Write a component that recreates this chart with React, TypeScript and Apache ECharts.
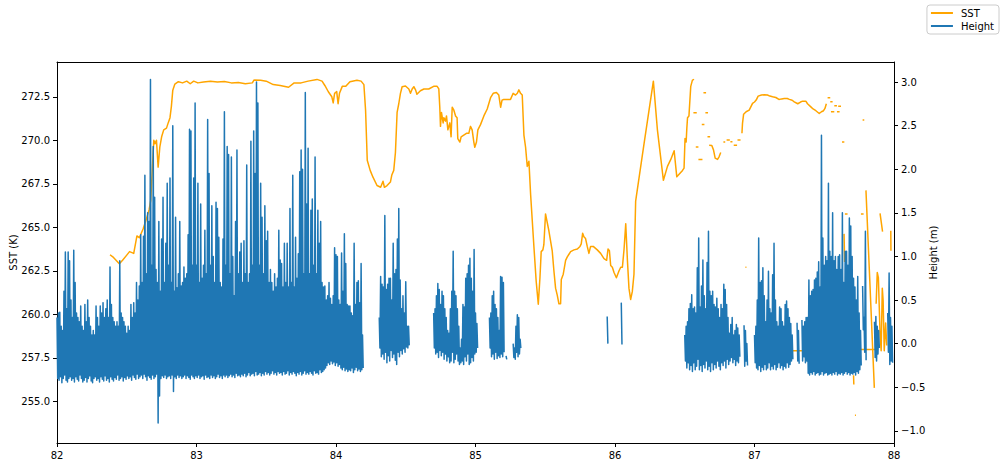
import React, { useEffect, useRef } from 'react';
import * as echarts from 'echarts';

const FONT = 'DejaVu Sans';
const SST_COLOR = '#ffa500';
const HEIGHT_COLOR = '#1f77b4';

// axis ticks
const xTicks = [82, 83, 84, 85, 86, 87, 88];
const sstTicks = [255, 257.5, 260, 262.5, 265, 267.5, 270, 272.5];
const heightTicks = [-1, -0.5, 0, 0.5, 1, 1.5, 2, 2.5, 3];
const seriesNames = ['SST', 'Height'];

// ---------- SST (K) ----------
const sstMain: number[][] = [
  [82.38, 263.42], [82.4, 263.3], [82.43, 263.05], [82.447, 262.9], [82.47, 263.1], [82.5, 263.4], [82.52, 263.6],
  [82.55, 263.5], [82.573, 264.5], [82.59, 264.4], [82.617, 264.9], [82.634, 265.3], [82.66, 266.0], [82.672, 266.54],
  [82.684, 268.46], [82.694, 270.0], [82.703, 269.8], [82.713, 270.0], [82.725, 268.46], [82.737, 269.6], [82.75, 270.2],
  [82.765, 270.6], [82.785, 270.7], [82.797, 271.0], [82.81, 271.3], [82.82, 271.95], [82.83, 272.88], [82.845, 273.23],
  [82.87, 273.37], [82.9, 273.3], [82.93, 273.4], [82.955, 273.25], [82.98, 273.4], [83.01, 273.3], [83.05, 273.35],
  [83.1, 273.4], [83.15, 273.35], [83.2, 273.38], [83.25, 273.3], [83.3, 273.32], [83.35, 273.25], [83.4, 273.3],
  [83.412, 273.46], [83.46, 273.45], [83.5, 273.4], [83.55, 273.2], [83.6, 273.15], [83.66, 273.05], [83.7, 273.3],
  [83.75, 273.3], [83.8, 273.4], [83.864, 273.5], [83.9, 273.4], [83.92, 273.15], [83.945, 272.79], [83.97, 272.5],
  [83.98, 272.15], [83.99, 272.7], [84.005, 272.8], [84.015, 272.1], [84.025, 272.7], [84.045, 273.1], [84.07, 273.1],
  [84.1, 273.37], [84.15, 273.45], [84.18, 273.4], [84.2, 273.2], [84.212, 271.73], [84.224, 268.85], [84.245, 268.27],
  [84.265, 267.88], [84.294, 267.4], [84.32, 267.3], [84.337, 267.65], [84.347, 267.3], [84.366, 267.4], [84.39, 267.6],
  [84.4, 268.0], [84.414, 268.27], [84.426, 269.3], [84.438, 271.6], [84.45, 272.1], [84.462, 272.7], [84.474, 273.08],
  [84.498, 273.12], [84.522, 272.95], [84.534, 272.7], [84.546, 272.95], [84.558, 273.08], [84.57, 272.9], [84.58, 272.65],
  [84.605, 272.85], [84.63, 272.95], [84.665, 272.95], [84.7, 273.1], [84.725, 273.1], [84.737, 272.95], [84.744, 271.9],
  [84.749, 270.8], [84.756, 271.6], [84.768, 271.0], [84.773, 271.3], [84.785, 271.1], [84.792, 271.4], [84.802, 270.6],
  [84.816, 271.0], [84.825, 270.2], [84.833, 271.9], [84.845, 271.73], [84.857, 271.4], [84.868, 271.3], [84.873, 270.1],
  [84.888, 269.9], [84.897, 270.2], [84.916, 270.3], [84.935, 270.4], [84.952, 270.4], [84.964, 270.8], [84.976, 270.6],
  [84.988, 269.9], [84.995, 269.6], [85.007, 269.9], [85.017, 270.6], [85.036, 270.9], [85.06, 271.4], [85.084, 271.8],
  [85.108, 272.45], [85.127, 272.7], [85.15, 272.75], [85.167, 272.6], [85.18, 271.9], [85.19, 272.3], [85.203, 272.35],
  [85.227, 272.35], [85.251, 272.35], [85.27, 272.7], [85.287, 272.6], [85.3, 272.7], [85.311, 272.9], [85.323, 272.7],
  [85.335, 272.6], [85.347, 270.3], [85.359, 269.6], [85.371, 268.5], [85.383, 268.8], [85.395, 266.9], [85.419, 263.85],
  [85.435, 261.9], [85.45, 260.58], [85.462, 262.1], [85.471, 263.6], [85.483, 263.7], [85.49, 264.0], [85.502, 265.77],
  [85.526, 264.8], [85.55, 263.65], [85.562, 262.5], [85.574, 261.5], [85.586, 261.1], [85.598, 260.6], [85.61, 260.6],
  [85.615, 262.0], [85.629, 262.3], [85.646, 263.1], [85.658, 263.3], [85.67, 263.45], [85.682, 263.6], [85.706, 263.7],
  [85.73, 263.75], [85.749, 263.9], [85.758, 264.05], [85.768, 264.65], [85.777, 264.45], [85.789, 264.35], [85.801, 263.9],
  [85.813, 263.5], [85.825, 263.9], [85.844, 263.9], [85.873, 263.7], [85.897, 263.5], [85.921, 263.2], [85.94, 263.1],
  [85.95, 263.75], [85.96, 263.65], [85.969, 262.8], [85.981, 262.7], [85.993, 262.4], [86.01, 262.1], [86.029, 262.5],
  [86.041, 262.7], [86.053, 262.7], [86.065, 263.75], [86.077, 265.2], [86.089, 263.1], [86.1, 261.5], [86.112, 260.85],
  [86.124, 261.3], [86.136, 262.3], [86.148, 266.5], [86.208, 269.8], [86.275, 273.4], [86.304, 270.6], [86.347, 267.7],
  [86.376, 268.5], [86.4, 268.9], [86.424, 269.4], [86.443, 267.9], [86.484, 268.27], [86.495, 268.4], [86.502, 270.1],
  [86.51, 269.9], [86.515, 270.7], [86.52, 271.3], [86.53, 271.4], [86.543, 273.1], [86.555, 273.46], [86.567, 273.5],
];
const sstTrough: number[][] = [
  [86.675, 269.71], [86.694, 269.7], [86.706, 269.45], [86.718, 268.98], [86.735, 268.9], [86.746, 269.05], [86.758, 269.3],
];
const sstPlateau: number[][] = [
  [86.91, 270.4], [86.914, 270.97], [86.922, 271.5], [86.94, 271.64], [86.962, 271.73], [86.986, 272.12], [87.0, 272.2],
  [87.012, 272.31], [87.026, 272.54], [87.05, 272.6], [87.07, 272.62], [87.093, 272.6], [87.11, 272.54], [87.13, 272.5],
  [87.153, 272.46], [87.175, 272.35], [87.195, 272.38], [87.213, 272.4], [87.235, 272.4], [87.25, 272.35], [87.27, 272.3],
  [87.285, 272.21], [87.31, 272.1], [87.33, 272.2], [87.345, 272.25], [87.368, 272.25], [87.38, 272.1], [87.404, 271.92],
  [87.42, 271.8], [87.44, 271.7], [87.464, 271.54], [87.48, 271.64], [87.495, 271.7], [87.505, 271.83], [87.515, 272.1],
];
const sstFlatA: number[][] = [[87.2, 257.9], [87.35, 257.9]];
const sstFlatB: number[][] = [[87.763, 257.98], [87.883, 257.98]];
const sstDrop: number[][] = [[87.799, 267.12], [87.859, 255.77]];
const sstShort: number[][] = [[87.9, 265.8], [87.918, 264.75]];
const sstZigzag: number[][] = [
  [87.872, 260.6], [87.88, 262.4], [87.888, 262.1], [87.9, 258.9], [87.908, 257.9], [87.916, 261.5], [87.922, 260.8],
  [87.93, 257.9], [87.94, 259.5], [87.948, 258.2],
];
const sstVert: number[][] = [[87.642, 264.62], [87.646, 263.0]];
const sstEdge: number[][] = [[87.977, 264.8], [87.978, 263.65]];
const sstLow: number[][] = [[87.71, 256.5], [87.712, 255.96]];
// short dashes: [x start, x end, SST]
const sstDashes: number[][] = [
  [86.634, 86.653, 272.73], [86.562, 86.586, 271.58], [86.648, 86.667, 271.58], [86.622, 86.641, 270.91],
  [86.663, 86.682, 270.2], [86.579, 86.598, 269.62], [86.598, 86.627, 268.9], [86.935, 86.942, 262.7],
  [86.995, 87.0, 257.8], [86.777, 86.79, 269.9], [86.8, 86.823, 270.02], [86.827, 86.842, 269.92],
  [86.851, 86.875, 269.72], [86.878, 86.9, 270.02], [87.524, 87.543, 272.44], [87.543, 87.56, 272.21],
  [87.572, 87.591, 271.98], [87.6, 87.62, 271.96], [87.548, 87.572, 271.64], [87.591, 87.61, 271.64],
  [87.775, 87.787, 271.16], [87.627, 87.644, 269.9], [87.648, 87.667, 265.77], [87.763, 87.782, 265.77],
  [87.79, 87.795, 265.48], [87.758, 87.763, 259.71], [87.876, 87.88, 263.08], [87.72, 87.727, 254.2],
  [87.733, 87.738, 253.95], [87.738, 87.742, 253.56], [87.975, 87.979, 266.15], [87.975, 87.979, 265.67],
  [87.975, 87.979, 262.98], [87.975, 87.979, 262.69], [87.975, 87.979, 262.21], [87.975, 87.979, 260.77],
];

// ---------- Height (m): per-segment peaks (highs) and troughs (lows), 0.01 apart ----------
const hA = [
  0.30, 0.35, 0.36, 0.20, 0.15, 0.60, 1.05, 0.40, 1.05, 0.95,
  0.50, 0.30, 1.07, 0.70, 0.35, 0.30, 0.25, 0.43, 0.20, 0.15,
  0.45, 0.25, 0.50, 0.30, 0.20, 0.10, 0.15, 0.10, 0.43, 0.30,
  0.20, 0.43, 0.35, 0.47, 0.30, 0.40, 0.50, 0.30, 0.88, 0.45,
  0.30, 0.25, 0.20, 0.25, 0.20, 0.95, 0.35, 0.30, 0.25, 0.20,
  0.12, 0.20, 0.15, 0.45, 0.30, 0.47, 0.35, 0.70, 0.50, 0.66,
  1.25, 0.70, 1.23, 1.93, 0.80, 1.50, 1.40, 3.03, 0.90, 2.26,
  1.68, 0.85, 0.70, 1.40, 0.60, 1.20, 1.68, 0.70, 1.15, 1.84,
  0.90, 1.90, 0.70, 2.50, 0.60, 1.45, 0.64, 0.80, 1.40, 0.66,
  0.70, 0.88, 0.75, 0.80, 1.25, 2.46, 2.44, 0.90, 1.90, 2.76,
  0.90, 1.84, 0.70, 1.60, 0.75, 0.90, 1.30, 0.80, 2.57, 1.95,
  0.90, 1.58, 1.00, 0.70, 1.62, 1.55, 1.22, 0.70, 0.65, 1.20,
  2.66, 0.90, 2.26, 2.17, 0.80, 2.14, 1.00, 0.55, 1.40, 2.22,
  0.80, 1.05, 1.15, 0.70, 1.18, 0.80, 2.05, 0.70, 0.80, 2.32,
  0.90, 2.44, 1.95, 3.00, 2.76, 0.90, 1.84, 1.45, 0.80, 1.58,
  1.18, 1.29, 0.70, 0.85, 0.70, 0.60, 0.80, 0.65, 0.75, 1.30,
  0.96, 0.92, 0.65, 1.15, 0.70, 1.15, 0.65, 1.55, 0.70, 1.93,
  0.65, 1.22, 0.75, 1.03, 1.97, 2.22, 2.00, 0.80, 2.88, 1.60,
  2.24, 0.80, 1.53, 1.66, 0.90, 2.14, 0.80, 1.53, 1.15, 1.40,
  0.70, 0.65, 0.66, 0.50, 0.55, 0.70, 0.52, 0.45, 0.55, 1.10,
  1.02, 1.00, 0.50, 0.45, 1.04, 0.60, 1.26, 0.92, 0.45, 0.43,
  0.43, 0.35, 0.32, 1.15, 0.45, 0.70, 0.72, 0.47, 0.92, 0.10,
];
const lA = [
  -0.40, -0.42, -0.38, -0.45, -0.40, -0.36, -0.42, -0.44, -0.40, -0.38,
  -0.42, -0.40, -0.44, -0.38, -0.41, -0.43, -0.36, -0.40, -0.44, -0.42,
  -0.39, -0.44, -0.40, -0.37, -0.43, -0.45, -0.40, -0.38, -0.42, -0.40,
  -0.44, -0.38, -0.41, -0.43, -0.37, -0.42, -0.40, -0.44, -0.38, -0.41,
  -0.43, -0.39, -0.41, -0.36, -0.42, -0.40, -0.38, -0.43, -0.39, -0.41,
  -0.37, -0.40, -0.38, -0.42, -0.36, -0.39, -0.41, -0.35, -0.40, -0.38,
  -0.36, -0.40, -0.35, -0.38, -0.42, -0.37, -0.39, -0.41, -0.36, -0.40,
  -0.38, -0.35, -0.91, -0.60, -0.40, -0.37, -0.39, -0.36, -0.40, -0.38,
  -0.37, -0.40, -0.36, -0.55, -0.38, -0.40, -0.36, -0.39, -0.37, -0.40,
  -0.38, -0.36, -0.40, -0.37, -0.39, -0.41, -0.36, -0.38, -0.40, -0.37,
  -0.39, -0.36, -0.40, -0.38, -0.37, -0.41, -0.36, -0.39, -0.38, -0.40,
  -0.36, -0.39, -0.37, -0.40, -0.38, -0.35, -0.39, -0.37, -0.40, -0.36,
  -0.38, -0.36, -0.39, -0.37, -0.35, -0.38, -0.36, -0.39, -0.34, -0.37,
  -0.36, -0.38, -0.35, -0.37, -0.34, -0.38, -0.36, -0.33, -0.37, -0.35,
  -0.34, -0.37, -0.32, -0.36, -0.35, -0.33, -0.37, -0.34, -0.36, -0.32,
  -0.35, -0.33, -0.36, -0.34, -0.31, -0.35, -0.33, -0.36, -0.32, -0.34,
  -0.33, -0.36, -0.32, -0.35, -0.34, -0.31, -0.36, -0.33, -0.35, -0.32,
  -0.34, -0.37, -0.33, -0.35, -0.32, -0.36, -0.34, -0.31, -0.35, -0.33,
  -0.35, -0.32, -0.34, -0.36, -0.31, -0.34, -0.33, -0.35, -0.30, -0.33,
  -0.32, -0.30, -0.28, -0.25, -0.22, -0.24, -0.20, -0.23, -0.21, -0.25,
  -0.22, -0.26, -0.24, -0.28, -0.30, -0.27, -0.31, -0.29, -0.32, -0.30,
  -0.31, -0.28, -0.33, -0.30, -0.27, -0.31, -0.29, -0.32, -0.30, -0.28,
];
const hB = [0.3, 0.77, 0.68, 0.65, 1.47, 0.62, 0.68, 0.75, 0.75, 0.5, 1.15, 0.8, 0.85, 1.2, 1.55, 0.73, 0.4, 0.55, 0.35, 0.71, 0.2, 0.2];
const lB = [-0.05, -0.15, -0.12, -0.18, -0.1, -0.22, -0.14, -0.2, -0.08, -0.16, -0.12, -0.19, -0.24, -0.1, -0.15, -0.08, -0.12, -0.06, -0.1, -0.04, -0.05, -0.02];
const hC = [
  0.35, 0.4, 0.55, 0.69, 0.62, 0.45, 0.6, 0.55, 0.4, 0.3, 0.15, 0.12, 0.4, 0.6, 1.06, 0.6,
  0.55, 0.4, 0.2, -0.05, 0.05, 0.45, 0.42, 0.75, 0.8, 0.9, 0.98, 0.75, 0.6, 1.08, 0.35, 0.23,
];
const lC = [
  -0.05, -0.12, -0.1, -0.16, -0.08, -0.14, -0.1, -0.18, -0.12, -0.2, -0.15, -0.22, -0.2, -0.1, -0.22, -0.18,
  -0.12, -0.2, -0.24, -0.22, -0.2, -0.24, -0.15, -0.2, -0.12, -0.24, -0.22, -0.16, -0.2, -0.12, -0.1, -0.05,
];
const hD1 = [0.3, 0.35, 0.55, 0.6, 0.45, 0.4, 0.3, 0.15, 0.77, 0.76, 0.7];
const lD1 = [-0.05, -0.15, -0.12, -0.18, -0.1, -0.17, -0.14, -0.16, -0.12, -0.15, -0.1];
const hDot = [-0.14];
const lDot = [-0.18];
const hD2 = [0.0, -0.05, 0.2, 0.33, 0.3, 0.05];
const lD2 = [-0.16, -0.18, -0.1, -0.15, -0.12, -0.05];
const hE = [0.31];
const lE = [0.0];
const hF = [0.47];
const lF = [-0.01];
const hG = [
  0.1, 0.2, 0.25, 0.4, 0.46, 0.56, 0.4, 0.42, 0.35, 0.87, 1.21, 0.42, 0.66, 0.96, 0.55, 0.4, 0.93, 1.29, 0.6, 0.55,
  0.6, 0.45, 0.42, 0.52, 0.4, 0.3, 0.45, 0.4, 0.68, 0.62, 0.45, 0.3, 0.12, 0.22, 0.3, 0.1, 0.15, 0.22, 0.18, 0.1,
];
const lG = [
  -0.2, -0.28, -0.22, -0.3, -0.25, -0.32, -0.22, -0.3, -0.26, -0.18, -0.3, -0.25, -0.32, -0.24, -0.28, -0.2, -0.3, -0.26, -0.32, -0.22,
  -0.3, -0.24, -0.28, -0.2, -0.26, -0.3, -0.22, -0.25, -0.2, -0.28, -0.18, -0.24, -0.2, -0.16, -0.22, -0.18, -0.25, -0.2, -0.22, -0.15,
];
const hG2 = [0.21, 0.15, 0.0];
const lG2 = [-0.26, -0.2, -0.25];
const hH = [
  0.1, 0.2, 0.5, 1.21, 0.7, 0.72, 0.87, 0.55, 0.25, 0.5, 0.83, 0.4, 0.35, 0.79, 1.15, 0.5, 0.25, 0.2, 0.42, 0.4,
  0.25, 0.2, 0.45, 0.49, 0.4, 0.3, 0.23, 0.1,
];
const lH = [
  -0.22, -0.28, -0.3, -0.25, -0.32, -0.27, -0.3, -0.24, -0.3, -0.28, -0.22, -0.3, -0.26, -0.29, -0.24, -0.3, -0.27, -0.22, -0.28, -0.25,
  -0.3, -0.26, -0.28, -0.22, -0.27, -0.24, -0.2, -0.18,
];
const hI = [0.24, 0.15];
const lI = [-0.2, -0.23];
const hJ = [
  0.27, 0.2, 0.25, 0.3, 0.3, 0.73, 0.55, 0.6, 0.62, 0.73, 0.75, 0.82, 0.94, 0.65, 2.39, 1.21, 0.9, 1.0, 0.95, 1.84,
  1.06, 1.0, 1.5, 0.95, 1.0, 0.85, 1.0, 1.02, 0.85, 1.5, 0.7, 1.06, 1.06, 0.9, 1.44, 1.35, 1.0, 0.75, 0.65, 0.5,
  0.77, 0.35, 0.15,
];
const lJ = [
  -0.2, -0.15, -0.22, -0.2, -0.34, -0.36, -0.33, -0.35, -0.32, -0.36, -0.34, -0.33, -0.36, -0.35, -0.32, -0.36, -0.34, -0.33, -0.36, -0.35,
  -0.34, -0.36, -0.33, -0.35, -0.32, -0.36, -0.34, -0.35, -0.33, -0.36, -0.34, -0.32, -0.35, -0.33, -0.36, -0.34, -0.35, -0.33, -0.36, -0.32,
  -0.34, -0.3, -0.25,
];
const hK = [0.66, 0.3, 1.29];
const lK = [0.16, -0.1, -0.19];
const hL = [0.25, 0.31, 0.2, 0.15];
const lL = [-0.16, -0.2, -0.12, -0.05];
const hM = [0.35, 0.81, 0.3, 0.2];
const lM = [-0.1, -0.24, -0.2, -0.22];

const heightSegments = [
  { start: 82.0, highs: hA, lows: lA },
  { start: 84.31, highs: hB, lows: lB },
  { start: 84.7, highs: hC, lows: lC },
  { start: 85.1, highs: hD1, lows: lD1 },
  { start: 85.219, highs: hDot, lows: lDot },
  { start: 85.27, highs: hD2, lows: lD2 },
  { start: 85.944, highs: hE, lows: lE },
  { start: 86.045, highs: hF, lows: lF },
  { start: 86.5, highs: hG, lows: lG },
  { start: 86.925, highs: hG2, lows: lG2 },
  { start: 87.0, highs: hH, lows: lH },
  { start: 87.305, highs: hI, lows: lI },
  { start: 87.34, highs: hJ, lows: lJ },
  { start: 87.775, highs: hK, lows: lK },
  { start: 87.86, highs: hL, lows: lL },
  { start: 87.955, highs: hM, lows: lM },
];

function buildHeight(): any[] {
  const out: any[] = [];
  heightSegments.forEach((seg) => {
    seg.highs.forEach((h, i) => {
      const x = seg.start + i * 0.01;
      out.push([x, h]);
      out.push([x + 0.005, seg.lows[i]]);
    });
    const last = seg.start + seg.highs.length * 0.01;
    out.push([last, '-']);
  });
  return out;
}

function buildSST(): any[] {
  const out: any[] = [];
  const pieces = [sstMain, sstTrough, sstPlateau, sstFlatA, sstFlatB, sstDrop, sstShort, sstZigzag, sstVert, sstEdge, sstLow];
  pieces.forEach((p) => {
    p.forEach((pt) => out.push([pt[0], pt[1]]));
    out.push([p[p.length - 1][0] + 0.0001, '-']);
  });
  sstDashes.forEach((d) => {
    out.push([d[0], d[2]]);
    out.push([d[1], d[2]]);
    out.push([d[1] + 0.0001, '-']);
  });
  return out;
}

const fmt1 = (v: number) => {
  const s = Math.abs(v).toFixed(1);
  return v < 0 ? '\u2212' + s : s;
};

export default function App() {
  const ref = useRef<HTMLDivElement>(null);
  useEffect(() => {
    if (!ref.current) return;
    const chart = echarts.init(ref.current, undefined, { renderer: 'svg' });
    const axisLine = { show: true, onZero: false, lineStyle: { color: '#000', width: 1 } };
    const tick = { show: true, inside: false, length: 4, lineStyle: { color: '#000', width: 1 } };
    const label = { color: '#000', fontSize: 10, fontFamily: FONT };
    chart.setOption({
      animation: false,
      backgroundColor: '#ffffff',
      textStyle: { fontFamily: FONT },
      grid: { left: 57, right: 110, top: 62, bottom: 24, containLabel: false, outerBoundsMode: 'none' },
      legend: {
        data: seriesNames.map((n) => ({ name: n, icon: 'rect' })),
        orient: 'vertical',
        right: 5,
        top: 5,
        itemWidth: 22,
        itemHeight: 2,
        itemGap: 3,
        padding: [3, 5, 3, 4],
        borderColor: '#cccccc',
        borderWidth: 1,
        borderRadius: 3,
        backgroundColor: '#ffffff',
        textStyle: { color: '#000', fontSize: 10, fontFamily: FONT, padding: [0, 0, 0, 3] },
      },
      xAxis: [
        {
          type: 'value', min: 82, max: 88, interval: 1,
          axisLine, axisTick: { ...tick, customValues: xTicks },
          axisLabel: { ...label, margin: 7, customValues: xTicks, formatter: (v: number) => String(v) },
          splitLine: { show: false },
        },
        {
          type: 'value', position: 'top', min: 82, max: 88,
          axisLine, axisTick: { show: false }, axisLabel: { show: false }, splitLine: { show: false },
        },
      ],
      yAxis: [
        {
          type: 'value', position: 'left', min: 252.6, max: 274.5,
          name: 'SST (K)', nameLocation: 'middle', nameRotate: 90, nameGap: 39, nameMoveOverlap: false,
          nameTextStyle: { color: '#000', fontSize: 10, fontFamily: FONT },
          axisLine, axisTick: { ...tick, customValues: sstTicks },
          axisLabel: { ...label, margin: 7, customValues: sstTicks, formatter: (v: number) => fmt1(v) },
          splitLine: { show: false },
        },
        {
          type: 'value', position: 'right', min: -1.14, max: 3.23,
          name: 'Height (m)', nameLocation: 'middle', nameRotate: 90, nameGap: 34, nameMoveOverlap: false,
          nameTextStyle: { color: '#000', fontSize: 10, fontFamily: FONT },
          axisLine, axisTick: { ...tick, customValues: heightTicks },
          axisLabel: { ...label, margin: 7, customValues: heightTicks, formatter: (v: number) => fmt1(v) },
          splitLine: { show: false },
        },
      ],
      series: [
        {
          name: 'SST', type: 'line', xAxisIndex: 0, yAxisIndex: 0, data: buildSST(),
          showSymbol: false, symbol: 'none', connectNulls: false, z: 2,
          lineStyle: { color: SST_COLOR, width: 1.5, join: 'round' }, itemStyle: { color: SST_COLOR },
        },
        {
          name: 'Height', type: 'line', xAxisIndex: 0, yAxisIndex: 1, data: buildHeight(),
          showSymbol: false, symbol: 'none', connectNulls: false, z: 3,
          lineStyle: { color: HEIGHT_COLOR, width: 1.5, join: 'round' }, itemStyle: { color: HEIGHT_COLOR },
        },
      ],
    });
    return () => chart.dispose();
  }, []);
  return <div ref={ref} style={{ position: 'fixed', left: 0, top: 0, width: 1004, height: 467 }} />;
}
